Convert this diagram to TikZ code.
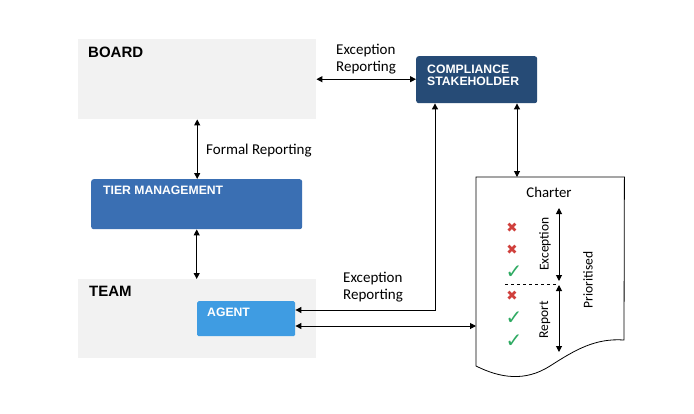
\documentclass[tikz,border=0pt]{standalone}
\usepackage{fontspec}
\setmainfont{Carlito}
\newfontfamily\headfont{Liberation Sans}
\newfontfamily\symfont{DejaVu Sans}
\usetikzlibrary{arrows.meta, positioning, calc}
\definecolor{levelGray}{HTML}{F2F2F2}
\definecolor{compNavy}{HTML}{264B76}
\definecolor{tierBlue}{HTML}{3A6FB3}
\definecolor{agentBlue}{HTML}{3F9CE2}
\definecolor{crossRed}{HTML}{D0403C}
\definecolor{tickGreen}{HTML}{2EAA62}

\tikzset{
  level/.style={fill=levelGray, inner sep=0pt, anchor=north west},
  unit/.style={rounded corners=2.5pt, inner sep=0pt, anchor=north west},
  heading/.style={font=\headfont\bfseries\fontsize{15}{16}\selectfont, anchor=base west, inner sep=0pt},
  tag/.style={font=\headfont\bfseries\fontsize{12.2}{13}\selectfont, text=white, anchor=base west, inner sep=0pt, align=left},
  note/.style={font=\fontsize{15}{17}\selectfont, align=left, inner sep=0pt, anchor=base west},
  side/.style={font=\fontsize{13.5}{14}\selectfont, rotate=90, inner sep=0pt},
  link/.style={line width=1pt, {Triangle[length=6pt,width=6pt]}-{Triangle[length=6pt,width=6pt]}},
  mark cross/.style={font=\symfont\fontsize{13.5}{14}\selectfont, text=crossRed, inner sep=0pt},
  mark tick/.style={font=\symfont\fontsize{20}{20}\selectfont, text=tickGreen, inner sep=0pt}
}

\begin{document}
\begin{tikzpicture}[x=1pt, y=-1pt]
    \useasboundingbox[fill=white] (0,0) rectangle (694,413);

    % levels and units
    \node[level, minimum width=238pt, minimum height=80pt] (board) at (78,39) {};
    \node[level, minimum width=238pt, minimum height=79pt] (team) at (78,279) {};
    \node[unit, fill=compNavy, minimum width=121pt, minimum height=47pt] (comp) at (416,56) {};
    \node[unit, fill=tierBlue, minimum width=211pt, minimum height=50pt] (tier) at (91,179) {};
    \node[unit, fill=agentBlue, rounded corners=1.5pt, minimum width=98pt, minimum height=35pt] (agent) at (197,301) {};

    \node[heading] (boardLbl) at (88,57) {BOARD};
    \node[heading] (teamLbl) at (89,296) {TEAM};
    \node[tag] (compLbl) at (427,85) {COMPLIANCE\\[-1pt]STAKEHOLDER};
    \node[tag] (tierLbl) at (103,194) {TIER MANAGEMENT};
    \node[tag] (agentLbl) at (207,316) {AGENT};

    % charter document
    \node[inner sep=0pt, anchor=north west, minimum width=148pt, minimum height=190pt] (doc) at (476,177) {};
    \draw[line width=0.8pt] (doc.north west) -- (doc.north east) -- (624,340)
        .. controls (595,338) and (575,350) .. (550,366)
        .. controls (525,382) and (500,378) .. (476,366) -- cycle;
    \node[font=\fontsize{14.8}{16}\selectfont, anchor=base, inner sep=0pt] (charter) at (549,197) {Charter};

    \node[mark cross] (c1) at (512,228) {✖};
    \node[mark cross] (c2) at (512,250) {✖};
    \node[mark tick] (t1) at (514,272) {✓};
    \node[mark cross] (c3) at (512,296) {✖};
    \node[mark tick] (t2) at (514,318) {✓};
    \node[mark tick] (t3) at (514,341) {✓};
    \draw[dashed, line width=0.7pt] (505,284) -- (558,284);

    \coordinate (excTop) at (559,208);
    \coordinate (excBot) at (559,281);
    \coordinate (repTop) at (559,285);
    \coordinate (repBot) at (559,352);
    \draw[link] (excTop) -- (excBot);
    \draw[link] (repTop) -- (repBot);
    \node[side] (excLbl) at (545,244) {Exception};
    \node[side] (repLbl) at (545,320) {Report};
    \node[side] (prioLbl) at (588,280) {Prioritised};

    % connectors
    \coordinate (upTurn) at (435,310);
    \coordinate (docTop) at (517,177);
    \coordinate (docIn) at (476,326);
    \draw[link] (board.east) -- (board.east -| comp.west);
    \draw[link] (board.south) -- (board.south |- tier.north);
    \draw[link] (tier.south) -- (tier.south |- team.north);
    \draw[link] (comp.south -| upTurn) |- (agent.east |- upTurn);
    \draw[link] (comp.south -| docTop) -- (docTop);
    \draw[link] (agent.east |- docIn) -- (docIn);

    \node[note] (excTopLbl) at (336,71) {Exception\\Reporting};
    \node[note] (formalLbl) at (206,154) {Formal Reporting};
    \node[note] (excLowLbl) at (343,299) {Exception\\Reporting};
\end{tikzpicture}
\end{document}
